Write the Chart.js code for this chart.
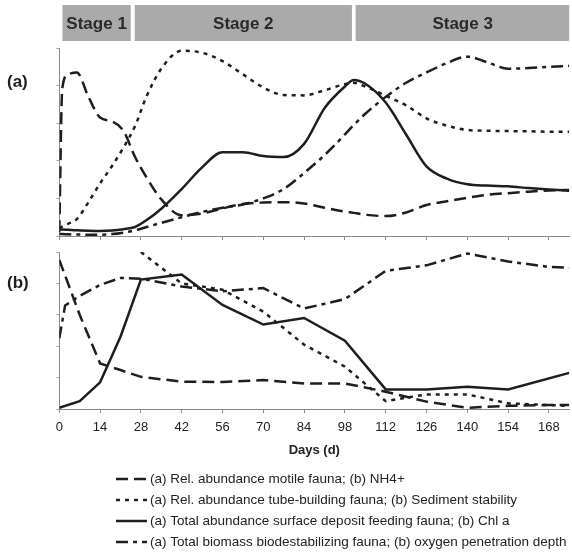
<!DOCTYPE html>
<html>
<head>
<meta charset="utf-8">
<script src="https://cdn.jsdelivr.net/npm/chart.js@4.4.0/dist/chart.umd.min.js"></script>
<style>
  html, body { margin: 0; padding: 0; background: #ffffff; }
  #wrap { position: relative; width: 572px; height: 553px; overflow: hidden; background: #ffffff; }
  #wrap canvas { position: absolute; left: 0; }
</style>
</head>
<body>
<div id="wrap">
  <canvas id="stages" width="572" height="44" style="top:0px"></canvas>
  <canvas id="panelA" width="572" height="202" style="top:44px"></canvas>
  <canvas id="panelB" width="572" height="307" style="top:246px"></canvas>
</div>
<script>
// ---- time axis ----
const dayTicks = [0, 14, 28, 42, 56, 70, 84, 98, 112, 126, 140, 154, 168];
const dayMax = 175;

// ---- succession stages (day ranges) ----
const stageNames = ['Stage 1', 'Stage 2', 'Stage 3'];
const stageStart = [1.2, 26, 101.8];
const stageEnd = [24.4, 100.3, 175];

// ---- panel (a): fauna, relative scale 0-100 ----
const daysA = [0, 1, 3, 6, 10, 14, 18, 22, 26, 30, 35, 42, 49, 56, 63, 70, 77, 84, 91, 98, 101, 105, 112, 119, 126, 133, 140, 147, 154, 161, 168, 175];
const motileFauna = [2, 78, 86, 87, 74, 63, 61, 56, 42, 31, 19.5, 11, 12, 14.7, 17, 17.8, 18, 17.3, 15, 13, 12.3, 11.3, 10.6, 12.5, 16.5, 18.5, 20.3, 21.9, 22.8, 23.6, 24.2, 24.5];
const tubeFauna = [4, 5, 6.5, 9, 18, 28, 37, 47, 58.5, 74.5, 89, 98.5, 97.5, 93, 86, 79, 75, 74.8, 77.5, 80.8, 81.5, 79.5, 74.6, 69.5, 62.6, 58.7, 56.4, 56, 55.8, 55.7, 55.5, 55.5];
const surfaceFeeders = [3.5, 3.5, 3.3, 3, 2.8, 2.7, 2.9, 3.6, 4.8, 8.5, 14.5, 25, 36.5, 44.5, 44.5, 42.5, 42, 49, 68, 79.5, 83, 81, 71, 54, 37, 30.5, 27.5, 26.8, 26.4, 25.5, 24.7, 24.1];
const biodestabilizers = [1, 1, 0.9, 0.8, 0.7, 0.7, 1, 1.8, 3, 4.8, 7, 10, 12.8, 15, 16.8, 20, 25, 33.5, 43, 54, 59, 65, 74, 81.5, 87, 92, 95.4, 92.3, 89, 89.3, 90, 90.5];

// ---- panel (b): sediment variables, relative scale 0-100 ----
const daysB = [0, 2, 7, 14, 21, 28, 42, 56, 70, 84, 98, 112, 126, 140, 154, 168, 175];
const nh4 = [95, 85, 60, 29, 24.8, 20.5, 17.4, 17.2, 18.4, 16.3, 16.3, 11, 4.7, 0.8, 2, 2.5, 2.5];
const sedimentStability = [null, null, null, null, null, 100, 80, 76, 62, 41, 27, 5, 9.3, 9.3, 3.6, 2.5, 2];
const chlA = [0.8, null, 5, 17, 46, 82.4, 85.6, 66.3, 53.8, 58, 43.5, 12.5, 12.5, 14.2, 12.5, null, 23];
const oxygenDepth = [45, 66, 72, 79, 83.5, 83, 78, 75, 77, 64, 70, 88, 91.5, 99, 94, 90.5, 90];

// ---- legend entries ----
const legendLabels = [
  '(a) Rel. abundance motile fauna; (b) NH4+',
  '(a) Rel. abundance tube-building fauna; (b) Sediment stability',
  '(a) Total abundance surface deposit feeding fauna; (b) Chl a',
  '(a) Total biomass biodestabilizing fauna; (b) oxygen penetration depth'
];

// ---- styles ----
const INK = '#1e1e1e';
const AXIS = '#8a8a8a';
const FONT = "'Liberation Sans', Arial, Helvetica, sans-serif";
const DASH_LONG = [12, 6];
const DASH_DOT = [4, 5];
const DASH_LONGDOT = [12, 5, 4, 5];
const lineStyles = [DASH_LONG, DASH_DOT, [], DASH_LONGDOT];

function pts(days, values) {
  return days.map((d, i) => ({ x: d, y: values[i] }));
}

function halftone() {
  const c = document.createElement('canvas');
  c.width = 2; c.height = 2;
  const g = c.getContext('2d');
  g.fillStyle = '#a4a4a4'; g.fillRect(0, 0, 2, 2);
  g.fillStyle = '#b0b0b0'; g.fillRect(0, 0, 1, 1); g.fillRect(1, 1, 1, 1);
  return g.createPattern(c, 'repeat');
}

function xScale(showLabels, title) {
  return {
    type: 'linear', min: 0, max: dayMax,
    afterBuildTicks: (s) => { s.ticks = dayTicks.map(v => ({ value: v })); },
    ticks: {
      display: showLabels, autoSkip: false, maxRotation: 0, padding: 7,
      color: '#222', font: { family: FONT, size: 13 }
    },
    grid: { drawOnChartArea: false, drawTicks: true, tickLength: 4, color: AXIS },
    border: { display: true, color: AXIS, width: 1 },
    title: title ? { display: true, text: title, color: '#222', padding: { top: 0, bottom: 0 },
      font: { family: FONT, size: 13, weight: 'bold' } } : { display: false },
    afterFit: (s) => { s.height = showLabels ? 48.8 : 6; }
  };
}

function yScale() {
  return {
    type: 'linear', min: 0, max: 100,
    ticks: { display: false, stepSize: 20 },
    grid: { drawOnChartArea: false, drawTicks: true, tickLength: 3, color: '#a8a8a8' },
    border: { display: true, color: AXIS, width: 1 },
    afterFit: (s) => { s.width = 4; }
  };
}

function series(days, values, i, smooth) {
  return {
    label: legendLabels[i],
    data: pts(days, values),
    borderColor: INK,
    borderWidth: 2.5,
    borderDash: lineStyles[i],
    pointRadius: 0,
    fill: false,
    spanGaps: true,
    cubicInterpolationMode: smooth ? 'monotone' : 'default',
    tension: 0
  };
}

const panelTag = {
  id: 'panelTag',
  afterDraw(chart, args, opts) {
    const ctx = chart.ctx;
    ctx.save();
    ctx.fillStyle = '#1e1e1e';
    ctx.font = 'bold 17px ' + FONT;
    ctx.textAlign = 'left';
    ctx.textBaseline = 'middle';
    ctx.fillText(opts.text, opts.x, opts.y);
    ctx.restore();
  }
};

const lineLegend = {
  id: 'lineLegend',
  afterDraw(chart, args, opts) {
    const ctx = chart.ctx;
    ctx.save();
    chart.data.datasets.forEach((ds, i) => {
      const y = opts.rows[i];
      ctx.beginPath();
      ctx.setLineDash(ds.borderDash || []);
      ctx.lineWidth = 2.5;
      ctx.strokeStyle = INK;
      ctx.moveTo(opts.x0, y);
      ctx.lineTo(opts.x1, y);
      ctx.stroke();
      ctx.setLineDash([]);
      ctx.fillStyle = '#222';
      ctx.font = '13.5px ' + FONT;
      ctx.textAlign = 'left';
      ctx.textBaseline = 'middle';
      ctx.fillText(ds.label, opts.x1 + 3, y);
    });
    ctx.restore();
  }
};

const stageText = {
  id: 'stageText',
  afterDatasetsDraw(chart) {
    const ctx = chart.ctx;
    ctx.save();
    ctx.fillStyle = '#2a2a2a';
    ctx.font = 'bold 17px ' + FONT;
    ctx.textAlign = 'center';
    ctx.textBaseline = 'middle';
    chart.data.datasets.forEach((ds, i) => {
      const bar = chart.getDatasetMeta(i).data[0];
      ctx.fillText(ds.label, (bar.x + bar.base) / 2, bar.y + 1);
    });
    ctx.restore();
  }
};

const PAD_L = 55.3, PAD_R = 2.7;

// ---- stage bar ----
const tone = halftone();
new Chart(document.getElementById('stages'), {
  type: 'bar',
  data: {
    labels: ['stages'],
    datasets: stageNames.map((n, i) => ({
      label: n,
      data: [[stageStart[i], stageEnd[i]]],
      backgroundColor: tone,
      borderWidth: 0,
      barPercentage: 1,
      categoryPercentage: 1,
      grouped: false
    }))
  },
  options: {
    indexAxis: 'y',
    responsive: false, animation: false, devicePixelRatio: 1,
    layout: { padding: { left: PAD_L + 4, right: PAD_R, top: 5, bottom: 3 } },
    scales: {
      x: { type: 'linear', min: 0, max: dayMax, display: false },
      y: { display: false }
    },
    plugins: { legend: { display: false }, tooltip: { enabled: false } }
  },
  plugins: [stageText]
});

// ---- panel (a) ----
new Chart(document.getElementById('panelA'), {
  type: 'line',
  data: {
    datasets: [
      series(daysA, motileFauna, 0, true),
      series(daysA, tubeFauna, 1, true),
      series(daysA, surfaceFeeders, 2, true),
      series(daysA, biodestabilizers, 3, true)
    ]
  },
  options: {
    responsive: false, animation: false, devicePixelRatio: 1,
    layout: { padding: { left: PAD_L, right: PAD_R, top: 4, bottom: 4 } },
    scales: { x: xScale(false, null), y: yScale() },
    plugins: {
      legend: { display: false }, tooltip: { enabled: false },
      panelTag: { text: '(a)', x: 7, y: 38 }
    }
  },
  plugins: [panelTag]
});

// ---- panel (b) ----
new Chart(document.getElementById('panelB'), {
  type: 'line',
  data: {
    datasets: [
      series(daysB, nh4, 0, false),
      series(daysB, sedimentStability, 1, false),
      series(daysB, chlA, 2, false),
      series(daysB, oxygenDepth, 3, false)
    ]
  },
  options: {
    responsive: false, animation: false, devicePixelRatio: 1,
    layout: { padding: { left: PAD_L, right: PAD_R, top: 6, bottom: 307 - 6 - 157 - 48.8 } },
    scales: { x: xScale(true, 'Days (d)'), y: yScale() },
    plugins: {
      legend: { display: false }, tooltip: { enabled: false },
      panelTag: { text: '(b)', x: 7, y: 37 },
      lineLegend: { x0: 116, x1: 147, rows: [233, 254, 275, 296] }
    }
  },
  plugins: [panelTag, lineLegend]
});
</script>
</body>
</html>
